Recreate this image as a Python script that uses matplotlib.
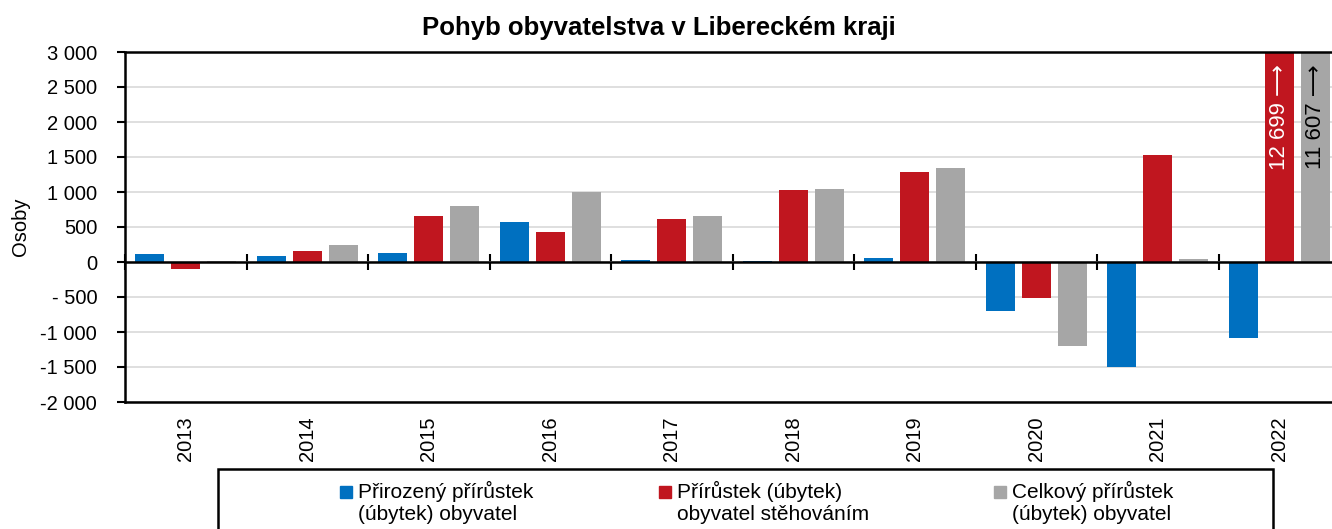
import matplotlib
matplotlib.use("Agg")
import matplotlib.pyplot as plt
import matplotlib.transforms as mtransforms
from matplotlib.patches import Rectangle, Patch
from matplotlib.legend_handler import HandlerPatch
import numpy as np

plt.rcParams['font.family'] = ['Liberation Sans', 'DejaVu Sans']

years = ['2013', '2014', '2015', '2016', '2017', '2018', '2019', '2020', '2021', '2022']
natural = [115, 90, 133, 576, 33, 10, 55, -696, -1495, -1090]
migration = [-100, 155, 661, 424, 620, 1025, 1281, -514, 1533, 12699]
total = [15, 245, 796, 996, 655, 1040, 1339, -1205, 45, 11607]
series_names = ['Přirozený přírůstek\n(úbytek) obyvatel',
                'Přírůstek (úbytek)\nobyvatel stěhováním',
                'Celkový přírůstek\n(úbytek) obyvatel']
colors = ['#0070C0', '#C0161F', '#A6A6A6']
yticks = [3000, 2500, 2000, 1500, 1000, 500, 0, -500, -1000, -1500, -2000]
ytick_labels = ['3 000', '2 500', '2 000', '1 500', '1 000', '500', '0',
                '- 500', '-1 000', '-1 500', '-2 000']
title = 'Pohyb obyvatelstva v Libereckém kraji'
ylabel = 'Osoby'
annot_2022 = ['12 699 \u27f6', '11 607 \u27f6']

W, H = 1332, 529
fig = plt.figure(figsize=(W / 100, H / 100), dpi=100)
ax = fig.add_axes([125 / W, 1 - 402 / H, 1215 / W, 350 / H])

x = np.arange(len(years))
bw = 0.241
off = 0.296
for k, (vals, c) in enumerate(zip([natural, migration, total], colors)):
    ax.bar(x + (k - 1) * off, vals, width=bw, color=c, zorder=3)

ax.set_xlim(-0.5, len(years) - 0.5)
ax.set_ylim(-2000, 3000)
ax.set_yticks(yticks)
ax.set_yticklabels(ytick_labels, fontsize=14.5)
ax.tick_params(axis='y', direction='out', length=6, width=1.5, pad=14)
ax.yaxis.grid(True, color='#D9D9D9', lw=1.2, zorder=0)
ax.set_axisbelow(True)

# category boundary ticks on the zero line
ax.spines['bottom'].set_position(('data', 0))
ax.set_xticks(np.arange(len(years) + 1) - 0.5)
ax.set_xticklabels([])
ax.tick_params(axis='x', direction='inout', length=12, width=1.5)
for s in ['left', 'bottom', 'top', 'right']:
    ax.spines[s].set_linewidth(1.8)
    ax.spines[s].set_zorder(5)
ax.axhline(-2000, color='black', lw=1.8, clip_on=False, zorder=5)

trans = mtransforms.blended_transform_factory(ax.transData, ax.transAxes)
for i, yr in enumerate(years):
    ax.text(i, -0.042, yr, transform=trans, rotation=90, ha='center', va='top',
            fontsize=14.5)

ax.set_ylabel(ylabel, fontsize=14.5)
ax.yaxis.set_label_coords(-95 / 1215, 0.5)

fig.text(659 / W, 1 - 35 / H, title, ha='center', va='baseline', fontsize=18.5,
         fontweight='bold')

# 2022 annotations for off-scale bars
last = len(years) - 1
ax.annotate(annot_2022[0], xy=(last, 3000), xytext=(0, -9), textcoords='offset points',
            rotation=90, ha='center', va='top', color='white', fontsize=16, zorder=6)
ax.annotate(annot_2022[1], xy=(last + off, 3000), xytext=(0, -9), textcoords='offset points',
            rotation=90, ha='center', va='top', color='black', fontsize=16, zorder=6)

# legend
fig.patches.append(Rectangle((218 / W, -0.05), (1273 - 218) / W, 1 - 469 / H + 0.05,
                             transform=fig.transFigure, fill=False, edgecolor='black',
                             lw=1.8))

LS = 1.2


def top_square(legend, orig_handle, xdescent, ydescent, width, height, fontsize):
    s = 0.57 * fontsize
    return Rectangle((-xdescent + width - s, 0.55 * fontsize), s, s)


handles = [Patch(color=c) for c in colors]
leg = fig.legend(handles, series_names, loc='center', ncol=3,
                 bbox_to_anchor=(757 / W, 1 - 502 / H), frameon=False,
                 fontsize=15, handlelength=0.57, handletextpad=0.3,
                 columnspacing=6.0,
                 handler_map={Patch: HandlerPatch(patch_func=top_square)})
for t in leg.get_texts():
    t.set_linespacing(LS)

fig.savefig('out.png', dpi=100)
